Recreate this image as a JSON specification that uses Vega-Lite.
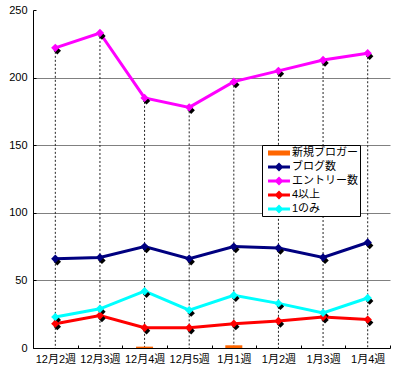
{
  "$schema": "https://vega.github.io/schema/vega-lite/v6.json",
  "width": 357,
  "height": 338,
  "autosize": {"type": "none"},
  "padding": {"left": 33, "top": 10, "right": 10, "bottom": 29},
  "background": "white",
  "config": {
    "font": "Liberation Sans, Noto Sans CJK JP",
    "view": {"stroke": null},
    "axis": {"labelFont": "Liberation Sans, Noto Sans CJK JP", "labelFontSize": 11, "labelColor": "#000", "domainColor": "#000", "tickColor": "#000", "title": null}
  },
  "data": {"values": [
    {"week": "12月2週", "series": "新規ブロガー", "value": 0},
    {"week": "12月3週", "series": "新規ブロガー", "value": 0},
    {"week": "12月4週", "series": "新規ブロガー", "value": 1},
    {"week": "12月5週", "series": "新規ブロガー", "value": 0},
    {"week": "1月1週", "series": "新規ブロガー", "value": 2},
    {"week": "1月2週", "series": "新規ブロガー", "value": 0},
    {"week": "1月3週", "series": "新規ブロガー", "value": 0},
    {"week": "1月4週", "series": "新規ブロガー", "value": 0},
    {"week": "12月2週", "series": "ブログ数", "value": 66},
    {"week": "12月3週", "series": "ブログ数", "value": 67},
    {"week": "12月4週", "series": "ブログ数", "value": 75},
    {"week": "12月5週", "series": "ブログ数", "value": 66},
    {"week": "1月1週", "series": "ブログ数", "value": 75},
    {"week": "1月2週", "series": "ブログ数", "value": 74},
    {"week": "1月3週", "series": "ブログ数", "value": 67},
    {"week": "1月4週", "series": "ブログ数", "value": 78},
    {"week": "12月2週", "series": "エントリー数", "value": 222},
    {"week": "12月3週", "series": "エントリー数", "value": 233},
    {"week": "12月4週", "series": "エントリー数", "value": 185},
    {"week": "12月5週", "series": "エントリー数", "value": 178},
    {"week": "1月1週", "series": "エントリー数", "value": 197},
    {"week": "1月2週", "series": "エントリー数", "value": 205},
    {"week": "1月3週", "series": "エントリー数", "value": 213},
    {"week": "1月4週", "series": "エントリー数", "value": 218},
    {"week": "12月2週", "series": "4以上", "value": 18},
    {"week": "12月3週", "series": "4以上", "value": 24},
    {"week": "12月4週", "series": "4以上", "value": 15},
    {"week": "12月5週", "series": "4以上", "value": 15},
    {"week": "1月1週", "series": "4以上", "value": 18},
    {"week": "1月2週", "series": "4以上", "value": 20},
    {"week": "1月3週", "series": "4以上", "value": 23},
    {"week": "1月4週", "series": "4以上", "value": 21},
    {"week": "12月2週", "series": "1のみ", "value": 23},
    {"week": "12月3週", "series": "1のみ", "value": 29},
    {"week": "12月4週", "series": "1のみ", "value": 42},
    {"week": "12月5週", "series": "1のみ", "value": 28},
    {"week": "1月1週", "series": "1のみ", "value": 39},
    {"week": "1月2週", "series": "1のみ", "value": 33},
    {"week": "1月3週", "series": "1のみ", "value": 26},
    {"week": "1月4週", "series": "1のみ", "value": 37}
  ]},
  "encoding": {
    "x": {
      "field": "week", "type": "nominal",
      "sort": ["12月2週", "12月3週", "12月4週", "12月5週", "1月1週", "1月2週", "1月3週", "1月4週"],
      "scale": {"paddingInner": 0, "paddingOuter": 0},
      "axis": {"labelAngle": 0, "tickBand": "extent", "tickSize": -3, "labelPadding": 8, "grid": false, "domainWidth": 1}
    },
    "y": {
      "field": "value", "type": "quantitative",
      "scale": {"domain": [0, 250], "nice": false},
      "axis": {"values": [0, 50, 100, 150, 200, 250], "tickSize": -3, "labelPadding": 9, "grid": true, "gridColor": "#808080", "gridWidth": 1,
        "gridOpacity": {"condition": {"test": "datum.value === 0 || datum.value === 250", "value": 0}, "value": 1}}
    }
  },
  "layer": [
    {
      "transform": [{"filter": "datum.series === 'エントリー数'"}],
      "mark": {"type": "rule", "color": "#222", "strokeDash": [2, 2], "strokeWidth": 1},
      "encoding": {"y2": {"datum": 0}}
    },
    {
      "transform": [{"filter": "datum.series === '新規ブロガー'"}],
      "mark": {"type": "bar", "size": 17},
      "encoding": {
        "color": {"field": "series", "type": "nominal"}
      }
    },
    {
      "transform": [{"filter": "datum.series !== '新規ブロガー'"}],
      "mark": {"type": "line", "strokeWidth": 3},
      "encoding": {
        "detail": {"field": "series"},
        "color": {
          "field": "series", "type": "nominal",
          "scale": {"domain": ["新規ブロガー", "ブログ数", "エントリー数", "4以上", "1のみ"], "range": ["#FF6600", "#000080", "#FF00FF", "#FF0000", "#00FFFF"]},
          "legend": {
            "title": null, "orient": "none", "legendX": 229, "legendY": 135,
            "padding": 2, "strokeColor": "#000", "fillColor": "#fff",
            "symbolSize": 144, "rowPadding": 3, "labelOffset": 16, "labelFontSize": 11, "labelColor": "#000",
            "encode": {
              "symbols": {"update": {
                "shape": {"signal": "datum.value === '新規ブロガー' ? 'M-0.33,-0.42H3.33V0.42H-0.33Z' : 'M-0.33,-0.25H3.33V0.25H-0.33Z M1.5,-0.75L2.25,0L1.5,0.75L0.75,0Z'"},
                "fill": {"scale": "color", "field": "value"},
                "fillOpacity": {"value": 1},
                "strokeWidth": {"value": 0}
              }}
            }
          }
        }
      }
    },
    {
      "transform": [{"filter": "datum.series !== '新規ブロガー'"}],
      "mark": {"type": "point", "shape": "diamond", "filled": true, "color": "#000", "size": 55, "xOffset": 2, "yOffset": 3, "opacity": 1}
    },
    {
      "transform": [{"filter": "datum.series !== '新規ブロガー'"}],
      "mark": {"type": "point", "shape": "diamond", "filled": true, "size": 70, "opacity": 1},
      "encoding": {"color": {"field": "series", "type": "nominal"}}
    }
  ]
}
